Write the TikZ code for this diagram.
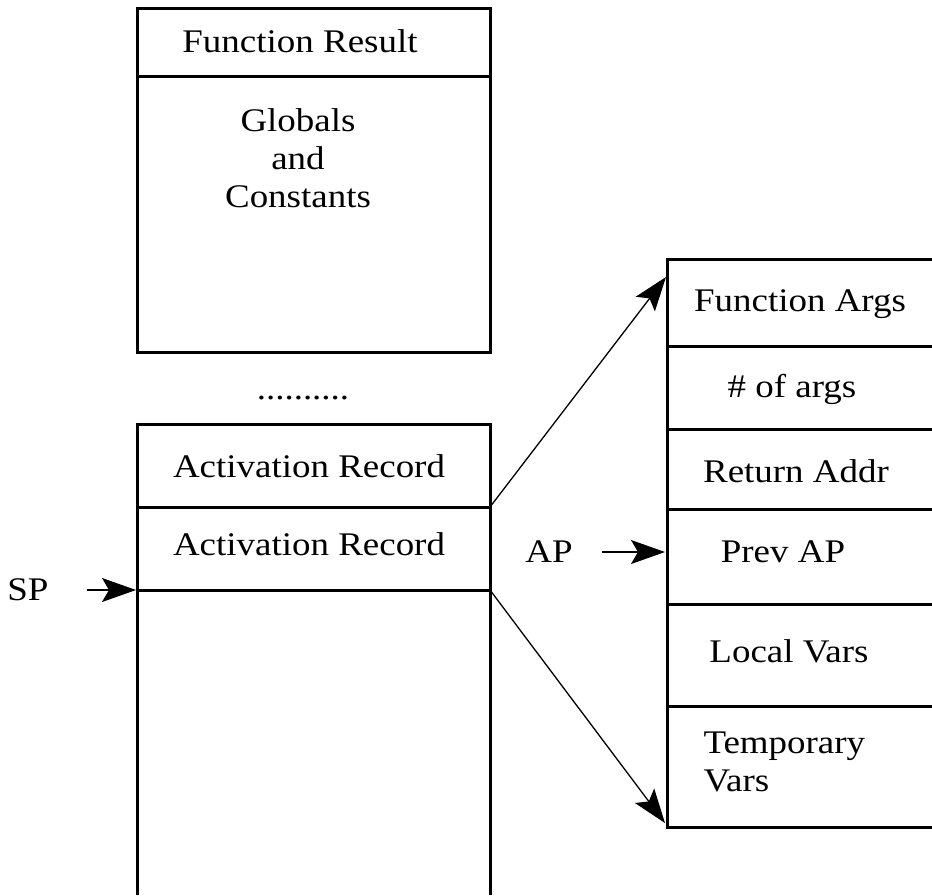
\documentclass[tikz,border=0pt]{standalone}
\usepackage{fontspec}
\setmainfont[FakeStretch=1.12]{Liberation Serif}
\usetikzlibrary{arrows.meta}

\tikzset{
  lbl/.style={font=\fontsize{33}{38}\selectfont, inner sep=0pt},
  ptr/.style={line width=1.3pt, -{Stealth[length=34pt,width=24pt,inset=7pt]}}
}

\begin{document}
\begin{tikzpicture}[x=1pt,y=-1pt,line width=3pt]
\useasboundingbox (0,0) rectangle (932,895);
\draw [black] (137,8) rectangle (490,352);
\draw [black] (137,76) -- (490,76);
\draw [black] (137,895) -- (137,424) -- (490,424) -- (490,895);
\draw [black] (137,507) -- (490,507);
\draw [black] (137,590) -- (490,590);
\draw [black] (932,259) -- (667,259) -- (667,827) -- (932,827);
\draw [black] (667,346) -- (932,346);
\draw [black] (667,429) -- (932,429);
\draw [black] (667,509) -- (932,509);
\draw [black] (667,604) -- (932,604);
\draw [black] (667,706) -- (932,706);
\node [lbl, anchor=base] (fres) at (300,52) {Function Result};
\node [lbl, align=center] (glob) at (298,158) {Globals\\and\\Constants};
\node [lbl, anchor=base] (dots) at (303,399) {..........};
\node [lbl, anchor=base] (act1) at (309,477) {Activation Record};
\node [lbl, anchor=base] (act2) at (309,555) {Activation Record};
\node [lbl, anchor=base] (sp) at (28,600) {SP};
\node [lbl, anchor=base] (ap) at (549,562) {AP};
\node [lbl, anchor=base] (fargs) at (800,311) {Function Args};
\node [lbl, anchor=base] (nargs) at (792,397) {\# of args};
\node [lbl, anchor=base] (raddr) at (796,482) {Return Addr};
\node [lbl, anchor=base] (pap) at (783,562) {Prev AP};
\node [lbl, anchor=base] (lvars) at (789,662) {Local Vars};
\node [lbl, align=left, anchor=west] (tvars) at (702,762) {Temporary\\Vars};
\coordinate (arup) at (490,507);
\coordinate (ardn) at (490,590);
\coordinate (fatop) at (666,277);
\coordinate (tvbot) at (665,823);
\coordinate (spf) at (87,590);
\coordinate (spt) at (136,590);
\coordinate (apf) at (602,552);
\coordinate (apt) at (665,552);
\draw [ptr] (arup) -- (fatop);
\draw [ptr] (ardn) -- (tvbot);
\draw [ptr] (spf) -- (spt);
\draw [ptr] (apf) -- (apt);
\end{tikzpicture}
\end{document}
